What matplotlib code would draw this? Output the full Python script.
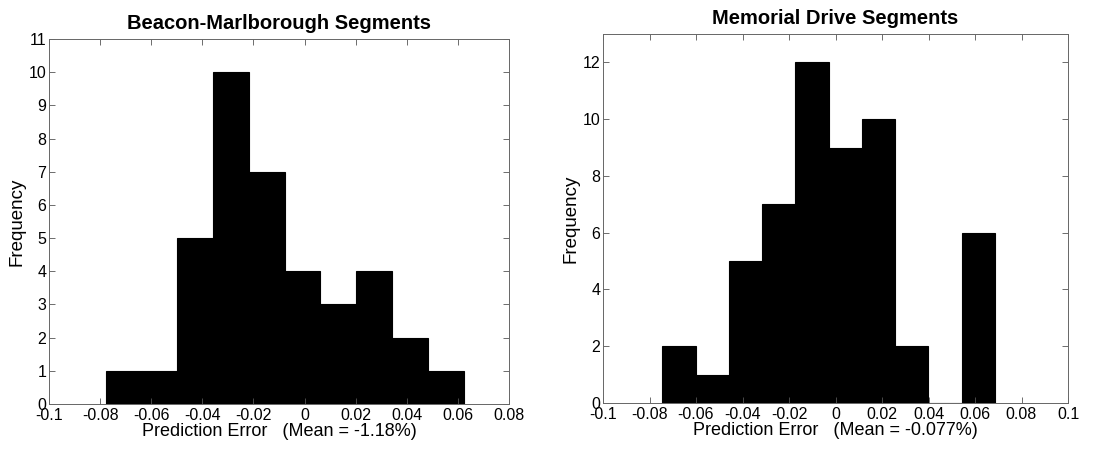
import matplotlib
matplotlib.use("Agg")
import matplotlib.pyplot as plt
import numpy as np

plt.rcParams['font.family'] = ['Liberation Sans', 'DejaVu Sans']

# Beacon-Marlborough prediction error histogram
bm_edges = [-0.0778, -0.0638, -0.0498, -0.0358, -0.0218, -0.0078,
            0.0062, 0.0202, 0.0342, 0.0482, 0.0622]
bm_counts = [1, 1, 5, 10, 7, 4, 3, 4, 2, 1]
bm_ticks_x = [-0.1, -0.08, -0.06, -0.04, -0.02, 0, 0.02, 0.04, 0.06, 0.08]
bm_ticks_y = list(range(0, 12))

# Memorial Drive prediction error histogram
md_edges = [-0.0745, -0.0602, -0.0459, -0.0316, -0.0173, -0.0030,
            0.0113, 0.0256, 0.0399, 0.0542, 0.0686]
md_counts = [2, 1, 5, 7, 12, 9, 10, 2, 0, 6]
md_ticks_x = [-0.1, -0.08, -0.06, -0.04, -0.02, 0, 0.02, 0.04, 0.06, 0.08, 0.1]
md_ticks_y = [0, 2, 4, 6, 8, 10, 12]

fig = plt.figure(figsize=(11.12, 4.49), dpi=100)
W, H = 1112, 449
ax1 = fig.add_axes([49 / W, 1 - 404 / H, 460 / W, 365 / H])
ax2 = fig.add_axes([603 / W, 1 - 403 / H, 465 / W, 369 / H])


def draw(ax, edges, counts, xt, yt, xlim, ylim, title, mean):
    edges = np.array(edges)
    ax.bar(edges[:-1], counts, width=np.diff(edges), align='edge',
           color='black', edgecolor='black', linewidth=0.8)
    ax.set_xlim(*xlim)
    ax.set_ylim(*ylim)
    ax.set_xticks(xt)
    ax.set_xticklabels(['%g' % v for v in xt])
    ax.set_yticks(yt)
    ax.tick_params(direction='in', top=True, right=True, labelsize=11.5,
                   length=4, width=0.6, color='#555555')
    ax.tick_params(axis='x', pad=3)
    ax.tick_params(axis='y', pad=2)
    for s in ax.spines.values():
        s.set_linewidth(0.7)
        s.set_color('#666666')
    ax.set_title(title, fontsize=14.5, fontweight='bold', pad=7)
    ax.set_xlabel('Prediction Error   (Mean = %s)' % mean, fontsize=13, labelpad=0)
    ax.set_ylabel('Frequency', fontsize=13.5, labelpad=2)


draw(ax1, bm_edges, bm_counts, bm_ticks_x, bm_ticks_y, (-0.1, 0.08), (0, 11),
     'Beacon-Marlborough Segments', '-1.18%')
draw(ax2, md_edges, md_counts, md_ticks_x, md_ticks_y, (-0.1, 0.1), (0, 13),
     'Memorial Drive Segments', '-0.077%')

fig.savefig('out.png', dpi=100)
